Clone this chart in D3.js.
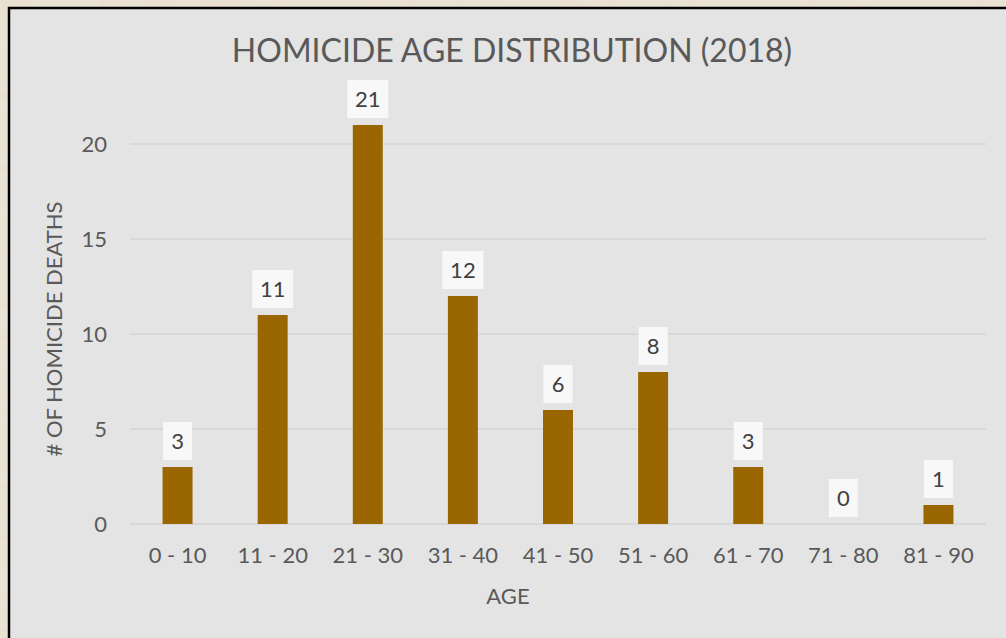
<!DOCTYPE html>
<html><head><meta charset="utf-8">
<script src="https://cdn.jsdelivr.net/npm/d3@7"></script>
<style>
html,body{margin:0;padding:0;background:#e6ddcc;}
svg{display:block;}
text{font-family:Lato,"Open Sans",sans-serif;}
</style></head>
<body>
<svg id="chart" width="1006" height="638"></svg>
<script>
const categories = ["0 - 10","11 - 20","21 - 30","31 - 40","41 - 50","51 - 60","61 - 70","71 - 80","81 - 90"];
const deaths = [3, 11, 21, 12, 6, 8, 3, 0, 1];
const yTicks = [0, 5, 10, 15, 20];
const title = "HOMICIDE AGE DISTRIBUTION (2018)";
const xTitle = "AGE";
const yTitle = "# OF HOMICIDE DEATHS";

const svg = d3.select("#chart");
const W = 1006, H = 638;

// parchment-like background
const defs = svg.append("defs");
const filt = defs.append("filter").attr("id","paper").attr("x",0).attr("y",0).attr("width","100%").attr("height","100%");
filt.append("feTurbulence").attr("type","fractalNoise").attr("baseFrequency","0.04 0.12").attr("numOctaves",3).attr("seed",4).attr("result","n");
filt.append("feColorMatrix").attr("in","n").attr("type","matrix")
  .attr("values","0 0 0 0 0.86  0 0 0 0 0.82  0 0 0 0 0.74  0 0 0 0.45 0").attr("result","c");
filt.append("feComposite").attr("in","c").attr("in2","SourceGraphic").attr("operator","over");
svg.append("rect").attr("width",W).attr("height",H).attr("fill","#e8dfcf").attr("filter","url(#paper)");

// chart panel with black border (extends past right and bottom edges)
svg.append("rect").attr("x",9).attr("y",8).attr("width",W+20).attr("height",H+20)
  .attr("fill","#e4e4e4").attr("stroke","#000").attr("stroke-width",2.5);

const plot = {left:130, right:986, top:144, bottom:524};
const x = d3.scaleBand().domain(categories).range([plot.left, plot.right]).paddingInner(0.685).paddingOuter(0.3425);
const y = d3.scaleLinear().domain([0,20]).range([plot.bottom, plot.top]);

// gridlines
svg.append("g").selectAll("line").data(yTicks).join("line")
  .attr("x1",plot.left).attr("x2",plot.right)
  .attr("y1",d=>y(d)).attr("y2",d=>y(d))
  .attr("stroke","#d5d5d5").attr("stroke-width",1.5);

// y axis labels
const yAxis = d3.axisLeft(y).tickValues(yTicks).tickSize(0).tickPadding(0);
const gy = svg.append("g").attr("transform",`translate(107,0)`).call(yAxis);
gy.select(".domain").remove();
gy.selectAll("text").attr("fill","#595959").attr("font-size",22).attr("font-family","Lato").attr("dy","0.35em");

// x axis labels
const xAxis = d3.axisBottom(x).tickSize(0).tickPadding(0);
const gx = svg.append("g").attr("transform",`translate(0,${plot.bottom})`).call(xAxis);
gx.select(".domain").remove();
gx.selectAll("text").attr("fill","#595959").attr("font-size",22).attr("font-family","Lato").attr("y",39).attr("dy",0);

// bars
svg.append("g").selectAll("rect").data(deaths).join("rect")
  .attr("x",(d,i)=>x(categories[i]))
  .attr("width",x.bandwidth())
  .attr("y",d=>y(d))
  .attr("height",d=>plot.bottom-y(d))
  .attr("fill","#996600");

// data labels with boxes
const lg = svg.append("g").selectAll("g").data(deaths).join("g")
  .attr("transform",(d,i)=>`translate(${x(categories[i])+x.bandwidth()/2},${y(d)-7})`);
lg.append("rect")
  .attr("x",d=>String(d).length>1?-20.5:-14.5)
  .attr("width",d=>String(d).length>1?41:29)
  .attr("y",-38).attr("height",38)
  .attr("fill","#f8f8f8");
lg.append("text").text(d=>d)
  .attr("text-anchor","middle").attr("y",-11)
  .attr("fill","#404040").attr("font-size",22);

// titles
svg.append("text").text(title).attr("x",512).attr("y",62)
  .attr("text-anchor","middle").attr("fill","#595959").attr("font-size",32);
svg.append("text").text(xTitle).attr("x",508).attr("y",604)
  .attr("text-anchor","middle").attr("fill","#595959").attr("font-size",22);
svg.append("text").text(yTitle)
  .attr("transform","translate(62,329) rotate(-90)")
  .attr("text-anchor","middle").attr("fill","#595959").attr("font-size",22);
</script>
</body></html>
